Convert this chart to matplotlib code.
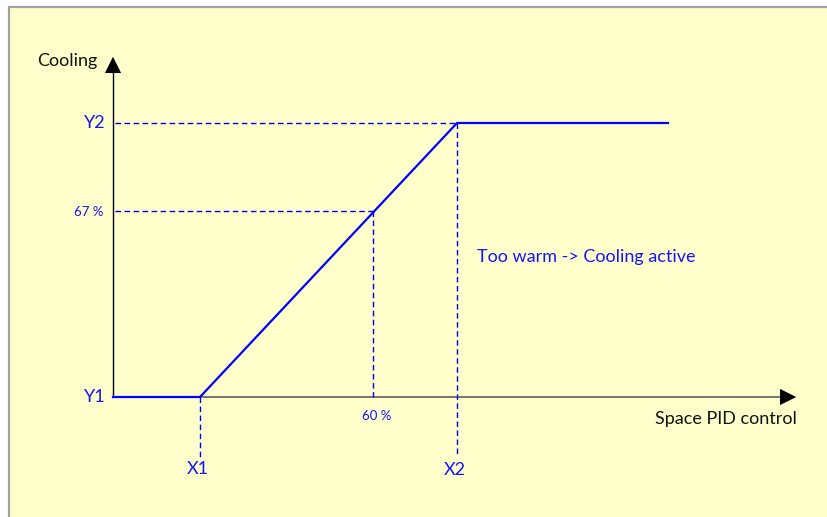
import matplotlib
matplotlib.use('Agg')
import matplotlib.pyplot as plt
from matplotlib.patches import Rectangle, FancyArrowPatch

plt.rcParams['font.family'] = ['Lato', 'DejaVu Sans']

# Chart values (drawing units, origin at the axes crossing)
curve_x = [0, 87, 344, 555]
curve_y = [0, 0, 274, 274]
x1, x2 = 87, 344
y2 = 274
mark_x, mark_y = 260, 186           # 60 % -> 67 %
x_axis_end, y_axis_end = 686, 343

blue = '#0000FF'
txt_blue = '#1414FF'
bg = '#FFFFCC'

fig = plt.figure(figsize=(8.27, 5.17), dpi=100)
ax = fig.add_axes([0, 0, 1, 1])
ax.set_xlim(-113, 714)
ax.set_ylim(-120, 397)
ax.axis('off')

# panel with grey border
ax.add_patch(Rectangle((-104, -125), 840, 515, facecolor=bg,
                       edgecolor='#A0A0A0', lw=1.6))

# axes
ax.plot([0, x_axis_end - 10], [0, 0], color='#606060', lw=1.2, zorder=2)
ax.plot([0, 0], [0, y_axis_end - 10], color='black', lw=1.0, zorder=2)
ax.add_patch(FancyArrowPatch((x_axis_end - 14, 0), (x_axis_end, 0),
                             arrowstyle='-|>,head_length=0.9,head_width=0.45',
                             mutation_scale=13, color='black', lw=0, zorder=3))
ax.add_patch(FancyArrowPatch((0, y_axis_end - 14), (0, y_axis_end),
                             arrowstyle='-|>,head_length=0.9,head_width=0.45',
                             mutation_scale=13, color='black', lw=0, zorder=3))

# helper dashed lines
dash = dict(color=blue, lw=1.0, ls=(0, (4, 2.5)), zorder=2)
ax.plot([2, x2], [y2, y2], **dash)
ax.plot([x2, x2], [y2, -58], **dash)
ax.plot([2, mark_x], [mark_y, mark_y], **dash)
ax.plot([mark_x, mark_x], [mark_y, 0], **dash)
ax.plot([x1, x1], [0, -60], **dash)

# characteristic curve
ax.plot(curve_x, curve_y, color=blue, lw=1.6, zorder=4)

# labels
fs = 13
ax.text(-16, 336, 'Cooling', ha='right', va='center', fontsize=fs, color='#111111')
ax.text(x_axis_end - 2, -22, 'Space PID control', ha='right', va='center',
        fontsize=fs, color='#111111')
ax.text(-7, y2, 'Y2', ha='right', va='center', fontsize=fs, color=txt_blue)
ax.text(-7, 0, 'Y1', ha='right', va='center', fontsize=fs, color=txt_blue)
ax.text(-10, mark_y - 1, '67 %', ha='right', va='center', fontsize=9.5, color=txt_blue)
ax.text(mark_x + 4, -19, '60 %', ha='center', va='center', fontsize=9.5, color=txt_blue)
ax.text(x1 - 2, -72, 'X1', ha='center', va='center', fontsize=fs, color=txt_blue)
ax.text(x2 - 2, -73, 'X2', ha='center', va='center', fontsize=fs, color=txt_blue)
ax.text(364, 140, 'Too warm -> Cooling active', ha='left', va='center',
        fontsize=fs, color=txt_blue)

fig.savefig('out.png', dpi=100, facecolor='white')
